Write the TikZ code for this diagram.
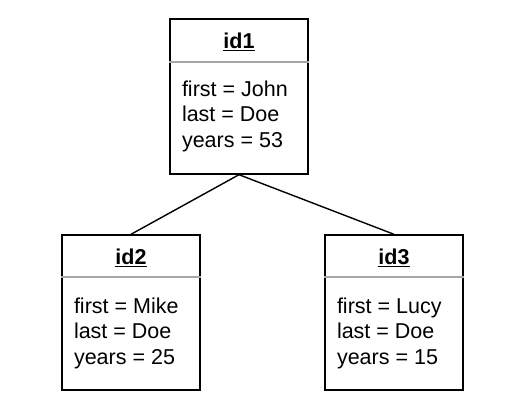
\documentclass[tikz,border=0pt]{standalone}
\usepackage{fontspec}
\setmainfont{Liberation Sans}
\usetikzlibrary{positioning}

\begin{document}
\begin{tikzpicture}[x=1pt,y=-1pt,line width=1.4pt]
	\tikzstyle{obj}=[draw, minimum width=138pt, minimum height=155pt, inner sep=0pt]
	\tikzstyle{title}=[font=\fontsize{21.5}{25}\selectfont\bfseries, inner sep=0pt]
	\tikzstyle{attrs}=[font=\fontsize{21.5}{25.5}\selectfont, align=left, inner sep=0pt, anchor=west]
	\tikzstyle{sep}=[draw=black!35, line width=2pt]
	
	\useasboundingbox (0,0) rectangle (510,419);
	
	\node[obj] (id1) at (239,96.5)  {};
	\node[obj] (id2) at (131,312.5) {};
	\node[obj] (id3) at (394,312.5) {};
	
	\node[title, below=14pt of id1.north] (t1) {\underline{id1}};
	\node[title, below=14pt of id2.north] (t2) {\underline{id2}};
	\node[title, below=14pt of id3.north] (t3) {\underline{id3}};
	
	\draw[sep] ([yshift=-44pt]id1.north west) -- ([yshift=-44pt]id1.north east);
	\draw[sep] ([yshift=-43pt]id2.north west) -- ([yshift=-43pt]id2.north east);
	\draw[sep] ([yshift=-43pt]id3.north west) -- ([yshift=-43pt]id3.north east);
	
	\node[attrs, right=12pt of id1.west, yshift=-19.5pt] (a1) {first = John\\last = Doe\\years = 53};
	\node[attrs, right=12pt of id2.west, yshift=-20.5pt] (a2) {first = Mike\\last = Doe\\years = 25};
	\node[attrs, right=12pt of id3.west, yshift=-20.5pt] (a3) {first = Lucy\\last = Doe\\years = 15};
	
	\draw (id1.south) -- (id2.north);
	\draw (id1.south) -- (id3.north);
\end{tikzpicture}
\end{document}
